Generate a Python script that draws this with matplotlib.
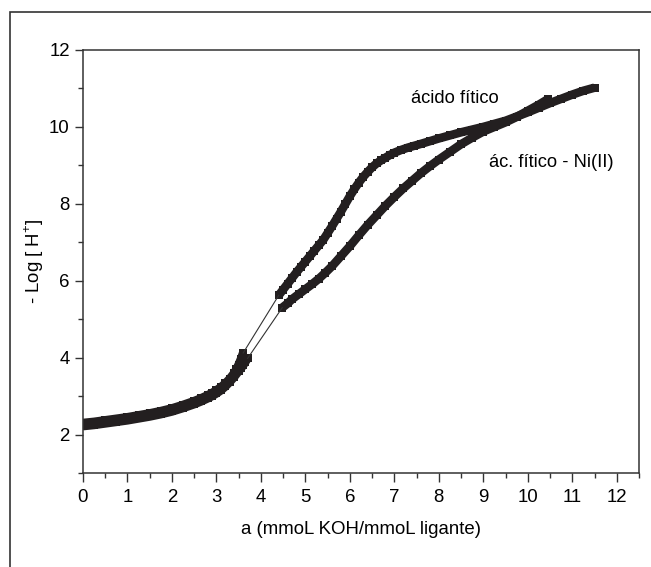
import numpy as np
import matplotlib
matplotlib.use("Agg")
import matplotlib.pyplot as plt
from matplotlib.patches import Rectangle
from matplotlib.ticker import MultipleLocator

plt.rcParams.update({
    "font.family": ["Liberation Sans", "DejaVu Sans"],
    "mathtext.fontset": "custom",
    "mathtext.rm": "Liberation Sans",
    "font.size": 13.4,
})

COL = "#231F20"

# ── ácido fítico ────────────────────────────────────────────
acido_x_a = [0.0, 0.25, 0.5, 0.75, 1.0, 1.25, 1.5, 1.75, 2.0, 2.25, 2.5, 2.65, 2.8, 2.9,
             3.0, 3.1, 3.2, 3.3, 3.4, 3.45, 3.5, 3.55, 3.6]
acido_y_a = [2.30, 2.33, 2.37, 2.41, 2.45, 2.50, 2.55, 2.61, 2.68, 2.77, 2.87, 2.94, 3.02, 3.08,
             3.15, 3.23, 3.33, 3.45, 3.60, 3.70, 3.82, 3.96, 4.12]
acido_x_b = [4.4, 4.5, 4.6, 4.7, 4.8, 4.9, 5.0, 5.1, 5.2, 5.3, 5.4, 5.5, 5.6, 5.7, 5.8, 5.9,
             6.0, 6.1, 6.2, 6.3, 6.4, 6.5, 6.6, 6.7, 6.8, 6.9, 7.0, 7.15, 7.3, 7.45, 7.6,
             7.8, 8.0, 8.25, 8.5, 8.75, 9.0, 9.25, 9.5, 9.75, 10.0, 10.25, 10.5, 10.75,
             11.0, 11.25, 11.5]
acido_y_b = [5.62, 5.77, 5.92, 6.07, 6.22, 6.36, 6.50, 6.64, 6.78, 6.92, 7.06, 7.24, 7.42, 7.61, 7.80, 8.00,
             8.20, 8.38, 8.55, 8.70, 8.83, 8.95, 9.05, 9.13, 9.20, 9.27, 9.33, 9.40, 9.46, 9.51, 9.56,
             9.63, 9.70, 9.78, 9.86, 9.93, 10.00, 10.08, 10.16, 10.27, 10.38, 10.50, 10.62, 10.73,
             10.84, 10.94, 11.02]

# ── ác. fítico - Ni(II) ─────────────────────────────────────
ni_x_a = [0.0, 0.25, 0.5, 0.75, 1.0, 1.25, 1.5, 1.75, 2.0, 2.25, 2.5, 2.65, 2.8, 2.9,
          3.0, 3.1, 3.2, 3.3, 3.4, 3.5, 3.55, 3.6, 3.65, 3.7]
ni_y_a = [2.22, 2.25, 2.29, 2.33, 2.37, 2.42, 2.47, 2.53, 2.60, 2.69, 2.79, 2.86, 2.94, 3.00,
          3.07, 3.15, 3.25, 3.37, 3.50, 3.65, 3.72, 3.80, 3.89, 3.98]
ni_x_b = [4.48, 4.6, 4.7, 4.85, 5.0, 5.15, 5.3, 5.45, 5.6, 5.8, 6.0, 6.2, 6.4, 6.6, 6.8,
          7.0, 7.2, 7.4, 7.6, 7.8, 8.0, 8.25, 8.5, 8.75, 9.0, 9.25, 9.5, 9.75, 10.0,
          10.25, 10.45]
ni_y_b = [5.30, 5.41, 5.52, 5.65, 5.78, 5.91, 6.05, 6.21, 6.38, 6.64, 6.90, 7.18, 7.45, 7.70, 7.95,
          8.18, 8.40, 8.60, 8.80, 8.98, 9.15, 9.35, 9.55, 9.72, 9.88, 10.00, 10.12, 10.26, 10.42,
          10.58, 10.72]

fig = plt.figure(figsize=(6.51, 5.67), dpi=100)
fig.patches.append(Rectangle((10 / 651, -0.05), 1.2, 1 - 12 / 567 + 0.05,
                             transform=fig.transFigure, fill=False,
                             edgecolor="#333333", linewidth=1.2))

ax = fig.add_axes([83 / 651, 1 - 473 / 567, (639 - 83) / 651, (473 - 50) / 567])

for xs, ys in [(acido_x_a, acido_y_a), (acido_x_b, acido_y_b),
               (ni_x_a, ni_y_a), (ni_x_b, ni_y_b)]:
    ax.plot(xs, ys, "-", color=COL, linewidth=6.2, solid_capstyle="butt")
    ax.plot(xs, ys, "s", color=COL, markersize=6.3, markeredgewidth=0)

# salto entre os dois trechos de cada curva
ax.plot([acido_x_a[-1], acido_x_b[0]], [acido_y_a[-1], acido_y_b[0]], color="#333333", linewidth=0.8)
ax.plot([ni_x_a[-1], ni_x_b[0]], [ni_y_a[-1], ni_y_b[0]], color="#333333", linewidth=0.8)

ax.text(7.38, 10.75, "ácido fítico", ha="left", va="center", fontsize=13.2)
ax.text(9.13, 9.08, "ác. fítico - Ni(II)", ha="left", va="center", fontsize=13.2)

ax.set_xlim(0, 12.5)
ax.set_ylim(1, 12)
ax.xaxis.set_major_locator(MultipleLocator(1))
ax.xaxis.set_minor_locator(MultipleLocator(0.5))
ax.yaxis.set_minor_locator(MultipleLocator(1))
ax.set_yticks([2, 4, 6, 8, 10, 12])
ax.tick_params(which="major", direction="out", length=6.5, width=1, color="#333333", pad=5)
ax.tick_params(which="minor", direction="out", length=3.5, width=1, color="#333333")
ax.tick_params(axis="y", which="major", length=5.5, pad=4)
for s in ax.spines.values():
    s.set_linewidth(1.1)
    s.set_color("#333333")

ax.set_xlabel("a (mmoL KOH/mmoL ligante)", labelpad=11)
ax.set_ylabel("- Log [ H$^{+}$]", labelpad=2)

fig.savefig("out.png", dpi=100, facecolor="white")
